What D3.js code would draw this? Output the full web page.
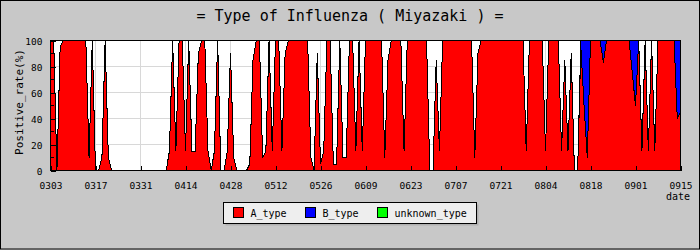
<!DOCTYPE html>
<head>
  <meta charset="utf-8">
  <title>Type of Influenza (Miyazaki)</title>
  <script src="https://cdn.jsdelivr.net/npm/d3@7"></script>
</head>

<style>
  body {
    margin: 0;
    background: #c8c8c8;
  }
  svg text {
    font-family: "DejaVu Sans Mono", monospace;
    fill: #000;
  }
  .grid line {
    stroke: #d8d8d8;
    shape-rendering: crispEdges;
  }
  .layer {
    shape-rendering: crispEdges;
  }
  .edge {
    fill: none;
    stroke: #000;
    stroke-width: 1;
    shape-rendering: crispEdges;
  }
  .axis path { display: none; }
  .axis line { stroke: #000; shape-rendering: crispEdges; }
</style>

<body>
  <svg id='svg-chart'></svg>
</body>

<script>

// x tick labels, one every 14 days (0303 .. 0915)
var tick_labels = ['0303', '0317', '0331', '0414', '0428', '0512', '0526', '0609',
                   '0623', '0707', '0721', '0804', '0818', '0901', '0915'];

var y_ticks = [0, 20, 40, 60, 80, 100];

var series_names = ['A_type', 'B_type', 'unknown_type'];

// daily positive rate (%), 0303 .. 0915, two weeks per row
var a_type = [
  100,100,0,95,100,100,100,100,100,100,100,100,10,100,
  0,0,10,100,10,0,0,0,0,0,0,0,0,0,
  0,0,0,0,0,0,0,0,0,15,100,15,100,100,
  15,100,15,15,90,100,100,15,0,15,100,0,0,15,
  90,10,0,0,0,0,5,85,100,100,10,15,100,15,
  100,100,15,90,100,100,100,100,100,100,100,10,0,90,
  5,15,100,100,5,5,100,10,10,100,100,15,100,15,
  100,100,100,100,100,100,10,85,100,100,100,100,15,100,
  100,100,100,100,100,100,0,0,85,15,100,100,100,100,
  100,100,100,100,100,100,10,90,100,100,100,100,100,100,
  100,100,100,100,100,100,100,100,15,100,100,100,100,100,
  15,100,100,100,100,15,85,15,90,0,0,95,50,10,
  100,100,100,100,83,100,100,100,100,100,100,100,100,75,
  50,100,15,100,15,100,15,100,100,100,100,100,100,40,
  45
];

var b_type = [
  0,0,0,0,0,0,0,0,0,0,0,0,0,0,
  0,0,0,0,0,0,0,0,0,0,0,0,0,0,
  0,0,0,0,0,0,0,0,0,0,0,0,0,0,
  0,0,0,0,0,0,0,0,0,0,0,0,0,0,
  0,0,0,0,0,0,0,0,0,0,0,0,0,0,
  0,0,0,0,0,0,0,0,0,0,0,0,0,0,
  0,0,0,0,0,0,0,0,0,0,0,0,0,0,
  0,0,0,0,0,0,0,0,0,0,0,0,0,0,
  0,0,0,0,0,0,0,0,0,0,0,0,0,0,
  0,0,0,0,0,0,0,0,0,0,0,0,0,0,
  0,0,0,0,0,0,0,0,0,0,0,0,0,0,
  0,0,0,0,0,0,0,0,0,0,0,5,50,90,
  0,0,0,0,17,0,0,0,0,0,0,0,0,25,
  50,0,0,0,0,0,0,0,0,0,0,0,0,60,
  55
];

var unknown_type = a_type.map(function() { return 0; });

var colours = {'A_type': '#ff0000', 'B_type': '#0000ff', 'unknown_type': '#00ff00'};

var width = 700,
    height = 250,
    plot = {left: 50.5, right: 680.5, top: 40.5, bottom: 170.5};

var svg = d3.select('#svg-chart')
  .attr('width', width)
  .attr('height', height);

// frame of the whole picture
svg.append('rect')
  .attr('x', 0.5).attr('y', 0.5)
  .attr('width', width - 1).attr('height', height - 1.5)
  .attr('fill', '#c8c8c8')
  .attr('stroke', '#000');

svg.append('text')
  .attr('x', 350)
  .attr('y', 21)
  .attr('text-anchor', 'middle')
  .style('font-size', '15px')
  .text('= Type of Influenza ( Miyazaki ) =');

var rows = a_type.map(function(d, i) {
  return {'A_type': d, 'B_type': b_type[i], 'unknown_type': unknown_type[i]};
});

var x = d3.scaleLinear().domain([0, a_type.length - 1]).range([plot.left, plot.right]);
var y = d3.scaleLinear().domain([0, 100]).range([plot.bottom, plot.top]);

var tick_days = tick_labels.map(function(_, i) { return i * 14; });

// plot background
svg.append('rect')
  .attr('x', plot.left).attr('y', plot.top)
  .attr('width', plot.right - plot.left).attr('height', plot.bottom - plot.top)
  .attr('fill', '#fff');

var grid = svg.append('g').attr('class', 'grid');
grid.selectAll('.hg')
  .data(y_ticks.slice(1, -1))
  .enter().append('line')
  .attr('x1', plot.left).attr('x2', plot.right)
  .attr('y1', function(d) { return y(d); })
  .attr('y2', function(d) { return y(d); });
grid.selectAll('.vg')
  .data(tick_days.slice(1, -1))
  .enter().append('line')
  .attr('y1', plot.top).attr('y2', plot.bottom)
  .attr('x1', function(d) { return x(d); })
  .attr('x2', function(d) { return x(d); });

var stack = d3.stack().keys(series_names);
var layers = stack(rows);

var area = d3.area()
  .x(function(d, i) { return x(i); })
  .y0(function(d) { return y(d[0]); })
  .y1(function(d) { return y(d[1]); });

var edge = d3.line()
  .x(function(d, i) { return x(i); })
  .y(function(d) { return y(d[1]); });

svg.selectAll('.layer')
  .data(layers)
  .enter().append('path')
  .attr('class', 'layer')
  .attr('fill', function(d) { return colours[d.key]; })
  .attr('d', area);

svg.selectAll('.edge')
  .data(layers.slice(0, 2))
  .enter().append('path')
  .attr('class', 'edge')
  .attr('d', edge);

// axes: ticks point inward
var x_axis = d3.axisBottom(x)
  .tickValues(tick_days)
  .tickFormat(function(d, i) { return tick_labels[i]; })
  .tickSize(-5)
  .tickPadding(12);

svg.append('g')
  .attr('class', 'axis')
  .attr('transform', 'translate(0,' + plot.bottom + ')')
  .call(x_axis)
  .selectAll('text')
  .style('font-size', '9.5px')
  .style('font-family', '"DejaVu Sans Mono", monospace');

var y_axis = d3.axisLeft(y)
  .tickValues(y_ticks)
  .tickSize(-5)
  .tickPadding(8);

svg.append('g')
  .attr('class', 'axis')
  .attr('transform', 'translate(' + plot.left + ',0)')
  .call(y_axis)
  .selectAll('text')
  .attr('dy', '0.38em')
  .style('font-size', '9.5px')
  .style('font-family', '"DejaVu Sans Mono", monospace');

svg.append('g')
  .attr('class', 'axis')
  .selectAll('line')
  .data([10, 30, 50, 70, 90])
  .enter().append('line')
  .attr('x1', plot.left).attr('x2', plot.left + 3)
  .attr('y1', function(d) { return y(d); })
  .attr('y2', function(d) { return y(d); });

svg.append('rect')
  .attr('x', plot.left).attr('y', plot.top)
  .attr('width', plot.right - plot.left).attr('height', plot.bottom - plot.top)
  .attr('fill', 'none')
  .attr('stroke', '#000')
  .style('shape-rendering', 'crispEdges');

svg.append('text')
  .attr('transform', 'translate(23,102) rotate(-90)')
  .attr('text-anchor', 'middle')
  .style('font-size', '11px')
  .text('Positive_rate(%)');

svg.append('text')
  .attr('x', 666)
  .attr('y', 200)
  .style('font-size', '10px')
  .text('date');

// legend
var lg = svg.append('g').attr('transform', 'translate(223.5,202.5)');
lg.append('rect')
  .attr('x', 2).attr('y', 2)
  .attr('width', 253).attr('height', 21)
  .attr('fill', '#b0b0b0');
lg.append('rect')
  .attr('width', 253).attr('height', 21)
  .attr('fill', '#eeeeee')
  .attr('stroke', '#000');

var item = lg.selectAll('.item')
  .data(series_names)
  .enter().append('g')
  .attr('transform', function(d, i) { return 'translate(' + (10 + i * 72) + ',0)'; });

item.append('rect')
  .attr('y', 5)
  .attr('width', 10).attr('height', 10)
  .attr('fill', function(d) { return colours[d]; })
  .attr('stroke', '#000');

item.append('text')
  .attr('x', 17)
  .attr('y', 14)
  .style('font-size', '10px')
  .text(function(d) { return d; });

</script>
